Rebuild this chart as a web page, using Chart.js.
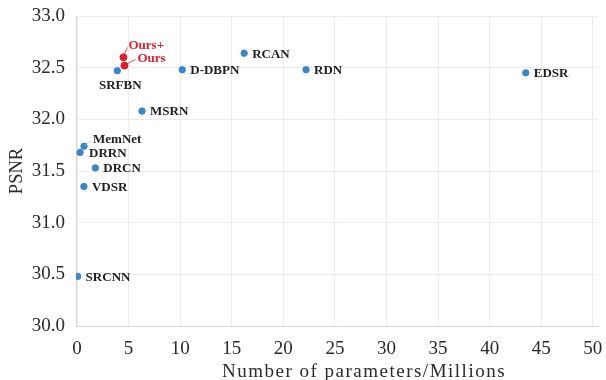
<!DOCTYPE html>
<html>
<head>
<meta charset="utf-8">
<script src="https://cdn.jsdelivr.net/npm/chart.js@4/dist/chart.umd.min.js"></script>
<style>
  html, body { margin: 0; padding: 0; background: #fff; }
  #wrap { width: 606px; height: 380px; }
</style>
</head>
<body>
<div id="wrap"><canvas id="c" width="606" height="380"></canvas></div>
<script>
// Model names, parameter counts (millions) and PSNR (dB)
const models = ['SRCNN', 'VDSR', 'DRCN', 'DRRN', 'MemNet', 'MSRN', 'SRFBN', 'D-DBPN', 'RCAN', 'RDN', 'EDSR'];
const params = [0.057, 0.665, 1.774, 0.297, 0.677, 6.3, 3.9, 10.2, 16.2, 22.2, 43.5];
const psnr   = [30.48, 31.35, 31.53, 31.68, 31.74, 32.08, 32.47, 32.48, 32.64, 32.48, 32.45];

const oursModels = ['Ours+', 'Ours'];
const oursParams = [4.5, 4.6];
const oursPsnr   = [32.60, 32.52];

const xTicks = [0, 5, 10, 15, 20, 25, 30, 35, 40, 45, 50];
const yTicks = [30.0, 30.5, 31.0, 31.5, 32.0, 32.5, 33.0];
const xTitle = 'Number of parameters/Millions';

const toPoints = (xs, ys) => xs.map((x, i) => ({ x: x, y: ys[i] }));
const serif = '"Liberation Serif", "Times New Roman", serif';

// Label placement relative to each marker: dx, dy, alignment, optional leader line
const labelPlacement = {
  'SRFBN':  { dx: 3,  dy: 15, align: 'center' },
  'MemNet': { dx: 9,  dy: -7, align: 'left', leader: [1, -1, 7, -5] },
  'DRRN':   { dx: 9,  dy: 1,  align: 'left' },
  'Ours+':  { dx: 5,  dy: -12, align: 'left', leader: [1, -3, 4, -10] },
  'Ours':   { dx: 13, dy: -7, align: 'left', leader: [3, -2, 11, -6] }
};

const pointLabels = {
  id: 'pointLabels',
  afterDatasetsDraw(chart) {
    const ctx = chart.ctx;
    const xs = chart.scales.x, ys = chart.scales.y;
    ctx.save();
    ctx.font = 'bold 13px ' + serif;
    ctx.textBaseline = 'middle';
    chart.data.datasets.forEach(ds => {
      ds.data.forEach((p, i) => {
        const name = ds.names[i];
        const px = xs.getPixelForValue(p.x);
        const py = ys.getPixelForValue(p.y);
        const pl = labelPlacement[name] || { dx: 8, dy: 1, align: 'left' };
        ctx.fillStyle = ds.labelColor;
        ctx.strokeStyle = ds.leaderColor;
        if (pl.leader) {
          ctx.lineWidth = 0.8;
          ctx.beginPath();
          ctx.moveTo(px + pl.leader[0], py + pl.leader[1]);
          ctx.lineTo(px + pl.leader[2], py + pl.leader[3]);
          ctx.stroke();
        }
        ctx.textAlign = pl.align;
        ctx.fillText(name, px + pl.dx, py + pl.dy);
      });
    });
    ctx.restore();
  }
};

// Horizontal axis title, drawn with a little letter spacing
const xAxisTitle = {
  id: 'xAxisTitle',
  afterDraw(chart) {
    const ctx = chart.ctx;
    ctx.save();
    ctx.font = '19px ' + serif;
    ctx.fillStyle = '#2a2a2a';
    ctx.textAlign = 'center';
    ctx.textBaseline = 'alphabetic';
    if ('letterSpacing' in ctx) ctx.letterSpacing = '1.5px';
    ctx.fillText(xTitle, 364, 377);
    ctx.restore();
  }
};

new Chart(document.getElementById('c'), {
  type: 'scatter',
  data: {
    datasets: [
      {
        label: 'Methods',
        names: models,
        data: toPoints(params, psnr),
        backgroundColor: '#3a86c8',
        borderColor: '#3a86c8',
        pointRadius: 3.2,
        labelColor: '#1e1e1e',
        leaderColor: '#b8b8b8'
      },
      {
        label: 'Ours',
        names: oursModels,
        data: toPoints(oursParams, oursPsnr),
        backgroundColor: '#dc1f26',
        borderColor: '#dc1f26',
        pointRadius: 3.5,
        labelColor: '#e3212a',
        leaderColor: '#e3212a'
      }
    ]
  },
  options: {
    responsive: false,
    animation: false,
    layout: { padding: { top: 16, right: 8, left: 0, bottom: 0 } },
    plugins: {
      legend: { display: false },
      tooltip: { enabled: false }
    },
    scales: {
      x: {
        type: 'linear',
        min: -0.1,
        max: 50.5,
        afterBuildTicks(scale) { scale.ticks = xTicks.map(v => ({ value: v })); },
        afterFit(scale) {
          scale.height = 54;
          scale.paddingLeft = 0;
          scale.paddingRight = 0;
        },
        grid: { color: '#ececec', lineWidth: 1, drawTicks: false },
        border: { color: '#d6d6d6' },
        ticks: {
          color: '#2a2a2a',
          font: { family: serif, size: 19 },
          padding: 12,
          maxRotation: 0,
          callback: v => String(v)
        }
      },
      y: {
        type: 'linear',
        min: 30,
        max: 33,
        afterBuildTicks(scale) { scale.ticks = yTicks.map(v => ({ value: v })); },
        afterFit(scale) {
          scale.width = 76;
          scale.paddingTop = 0;
          scale.paddingBottom = 0;
        },
        grid: { color: '#ececec', lineWidth: 1, drawTicks: false },
        border: { color: '#d6d6d6' },
        ticks: {
          color: '#2a2a2a',
          font: { family: serif, size: 19 },
          padding: 11,
          callback: v => Number(v).toFixed(1)
        },
        title: {
          display: true,
          text: 'PSNR',
          color: '#2a2a2a',
          font: { family: serif, size: 18.5 },
          padding: { top: 6, bottom: 0 }
        }
      }
    }
  },
  plugins: [pointLabels, xAxisTitle]
});
</script>
</body>
</html>
